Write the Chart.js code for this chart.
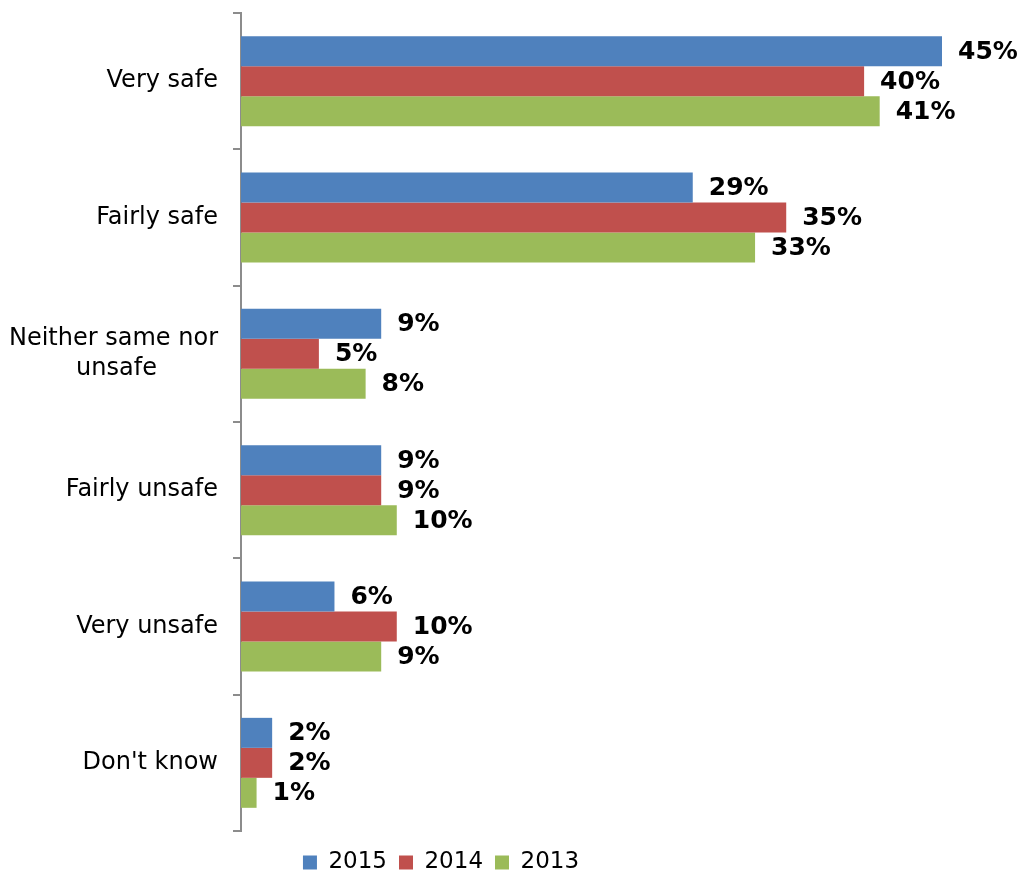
<!DOCTYPE html>
<html>
<head>
<meta charset="utf-8">
<script src="https://cdn.jsdelivr.net/npm/chart.js@4/dist/chart.umd.min.js"></script>
<style>
    body { margin: 0; background: #fff; }
    #wrap { width: 1024px; height: 876px; }
</style>
</head>
<body>
<div id="wrap"><canvas id="safetyChart" width="1024" height="876"></canvas></div>
<script>
// Survey answers, top to bottom
// (trailing no-break spaces keep the second line roughly centred under the first)
const categories = [
    'Very safe',
    'Fairly safe',
    ['Neither same nor', 'unsafe' + '\u00A0'.repeat(8)],
    'Fairly unsafe',
    'Very unsafe',
    "Don't know"
];
const years = ['2015', '2014', '2013'];
const values2015 = [45, 29, 9, 9, 6, 2];
const values2014 = [40, 35, 5, 9, 10, 2];
const values2013 = [41, 33, 8, 10, 9, 1];
const colors = ['#4F81BD', '#C0504D', '#9BBB59'];

const FONT = '"DejaVu Sans", Verdana, sans-serif';

// Writes the percentage just past the end of each bar
const valueLabels = {
    id: 'valueLabels',
    afterDatasetsDraw(chart) {
        const ctx = chart.ctx;
        ctx.save();
        ctx.font = 'bold 25px ' + FONT;
        ctx.fillStyle = '#000';
        ctx.textAlign = 'left';
        ctx.textBaseline = 'middle';
        chart.data.datasets.forEach((ds, i) => {
            const meta = chart.getDatasetMeta(i);
            meta.data.forEach((bar, j) => {
                ctx.fillText(ds.data[j] + '%', bar.x + 16, bar.y + 1);
            });
        });
        ctx.restore();
    }
};

// Nudges the legend a bit left and down, under the bars
const legendShift = {
    id: 'legendShift',
    afterLayout(chart) {
        const lg = chart.legend;
        if (!lg) return;
        lg.left -= 30;
        lg.right -= 30;
        lg.top += 8;
        lg.bottom += 8;
    }
};

new Chart(document.getElementById('safetyChart'), {
    type: 'bar',
    data: {
        labels: categories,
        datasets: [
            { label: years[0], data: values2015, backgroundColor: colors[0] },
            { label: years[1], data: values2014, backgroundColor: colors[1] },
            { label: years[2], data: values2013, backgroundColor: colors[2] }
        ]
    },
    options: {
        indexAxis: 'y',
        responsive: false,
        animation: false,
        datasets: {
            bar: { categoryPercentage: 0.66, barPercentage: 1.0 }
        },
        layout: {
            padding: { top: 13, right: 82, left: 0, bottom: 0 }
        },
        plugins: {
            legend: {
                position: 'bottom',
                labels: {
                    boxWidth: 14,
                    boxHeight: 14,
                    padding: 12,
                    color: '#000',
                    font: { family: FONT, size: 23 }
                }
            },
            tooltip: { enabled: false }
        },
        scales: {
            x: {
                display: false,
                min: 0,
                max: 45
            },
            y: {
                afterFit(scale) {
                    scale.width = 241;
                    scale.paddingTop = 0;
                    scale.paddingBottom = 0;
                },
                grid: {
                    display: true,
                    drawOnChartArea: false,
                    offset: true,
                    tickLength: 8,
                    color: '#8c8c8c',
                    lineWidth: 2
                },
                border: { display: true, color: '#8c8c8c', width: 2 },
                ticks: {
                    padding: 15,
                    color: '#000',
                    font: { family: FONT, size: 24, lineHeight: 1.25 }
                }
            }
        }
    },
    plugins: [valueLabels, legendShift]
});
</script>
</body>
</html>
